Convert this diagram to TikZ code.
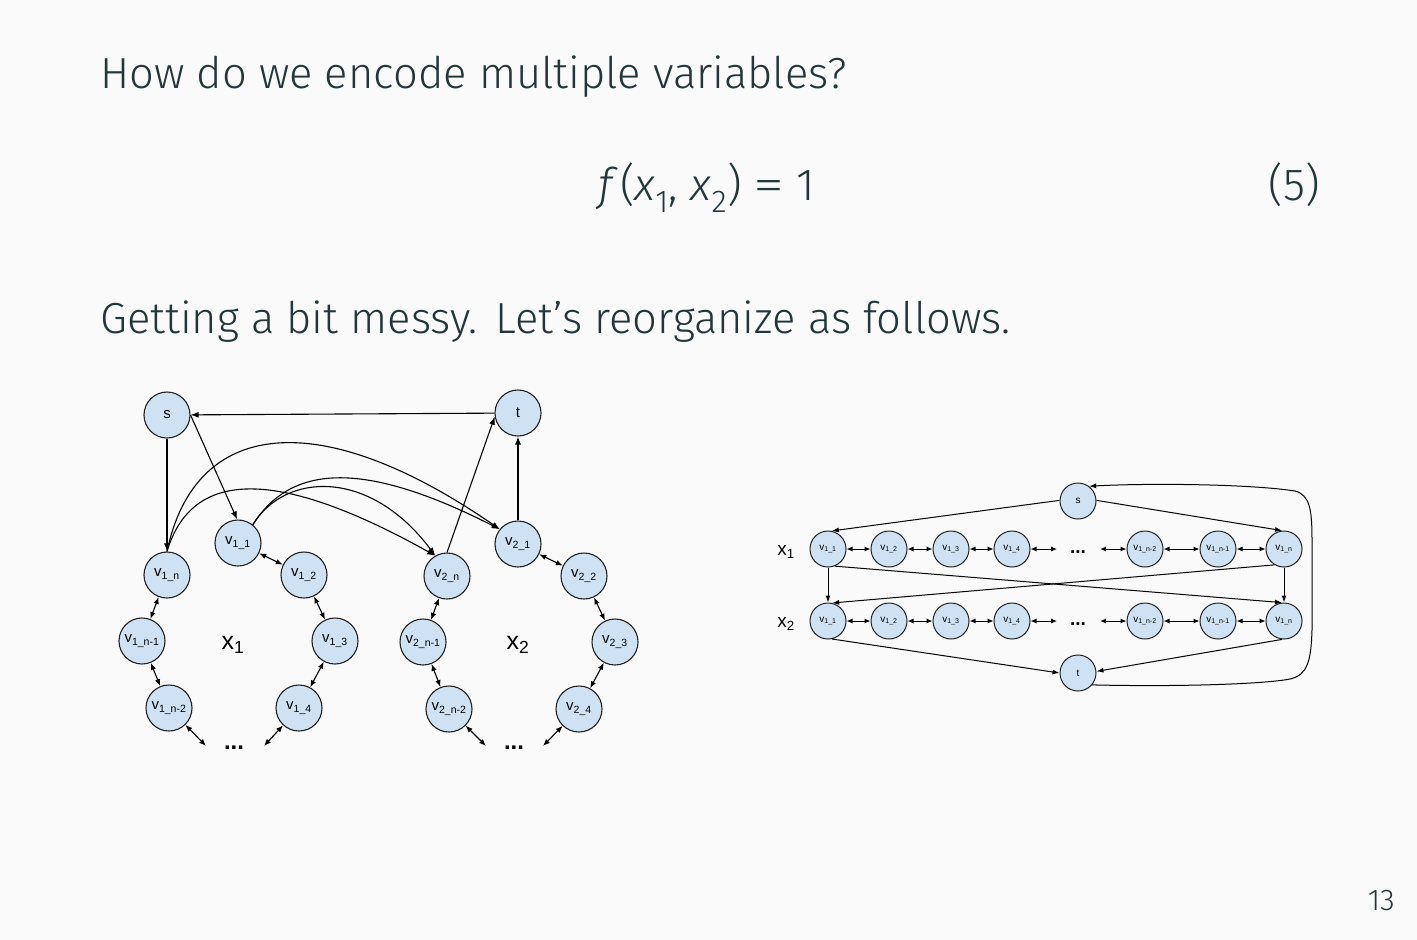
\documentclass[tikz,border=0pt]{standalone}
\usepackage{fontspec}
\usepackage{graphicx}
\setmainfont{Fira Sans Light}
\newfontfamily\arial{Liberation Sans}
\usetikzlibrary{arrows.meta}
\definecolor{pagebg}{HTML}{FAFAFA}
\definecolor{slidetext}{HTML}{23373B}
\definecolor{nodefill}{HTML}{CFE2F3}
\definecolor{nodeline}{HTML}{222222}
% node label: v with a lowered index
\newcommand\vlab[1]{v\textsubscript{#1}}
\begin{document}
\begin{tikzpicture}[x=1pt,y=-1pt,
  txt/.style={inner sep=0pt, text=slidetext},
  bn/.style={circle, draw=nodeline, fill=nodefill, line width=1.1pt, minimum size=46pt,
             inner sep=0pt, font=\arial\fontsize{15}{15}\selectfont},
  sn/.style={circle, draw=nodeline, fill=nodefill, line width=1pt, minimum size=36pt,
             inner sep=0pt, font=\arial\fontsize{10}{10}\selectfont},
  ellip/.style={inner sep=0pt, font=\arial\bfseries\fontsize{#1}{#1}\selectfont},
  varlab/.style={inner sep=0pt, font=\arial\fontsize{#1}{#1}\selectfont},
  arr/.style={-{Latex[length=8pt,width=6pt]}, line width=1.1pt},
  dbl/.style={{Latex[length=7pt,width=5.5pt]}-{Latex[length=7pt,width=5.5pt]}, line width=1.1pt},
  arrs/.style={-{Latex[length=7pt,width=5pt]}, line width=1pt},
  dbls/.style={{Latex[length=6pt,width=5pt]}-{Latex[length=6pt,width=5pt]}, line width=1pt},
]
% page
\path[fill=pagebg] (0,0) rectangle (1417,940);

% slide text
\node[txt, anchor=base west, font=\fontsize{43.5}{52}\selectfont] (title) at (100,88)
  {How do we encode multiple variables?};
\node[txt, anchor=base west, font=\fontsize{45}{54}\selectfont] (eq) at (598,200)
  {\textit{f\,}(\textit{x}\textsubscript{1}, \textit{x}\textsubscript{2})\hspace{12pt}\scalebox{1.4}[1]{=}\hspace{12pt}1};
\node[txt, anchor=base east, font=\fontsize{45}{54}\selectfont] (eqno) at (1320,200) {(5)};
\node[txt, anchor=base west, font=\fontsize{43.5}{52}\selectfont] (line2) at (100,333)
  {Getting a bit messy.\ \hspace{6pt}Let’s reorganize as follows.};
\node[txt, anchor=base east, font=\fontsize{30}{36}\selectfont] (pageno) at (1395,910) {13};

% ---------- first layout: two rings ----------
\node[bn] (s) at (167,415) {s};
\node[bn] (t) at (518,413) {t};

\node[bn] (v11) at (238,543) {\vlab{1\_1}};
\node[bn] (v12) at (304,575) {\vlab{1\_2}};
\node[bn] (v13) at (335,641) {\vlab{1\_3}};
\node[bn] (v14) at (299,708) {\vlab{1\_4}};
\node[bn] (v1n) at (167,575) {\vlab{1\_n}};
\node[bn] (v1m) at (142,641) {\vlab{1\_n-1}};
\node[bn] (v1k) at (169,708) {\vlab{1\_n-2}};
\node[ellip=24, anchor=base] (d1) at (234,749) {...};
\node[varlab=25] (x1) at (233,645) {x\textsubscript{1}};
\coordinate (d1l) at (206,746);
\coordinate (d1r) at (264,746);

\node[bn] (v21) at (518,544) {\vlab{2\_1}};
\node[bn] (v22) at (584,576) {\vlab{2\_2}};
\node[bn] (v23) at (615,642) {\vlab{2\_3}};
\node[bn] (v24) at (579,709) {\vlab{2\_4}};
\node[bn] (v2n) at (447,576) {\vlab{2\_n}};
\node[bn] (v2m) at (423,642) {\vlab{2\_n-1}};
\node[bn] (v2k) at (449,709) {\vlab{2\_n-2}};
\node[ellip=24, anchor=base] (d2) at (514,749) {...};
\node[varlab=25] (x2) at (518,645) {x\textsubscript{2}};
\coordinate (d2l) at (486,746);
\coordinate (d2r) at (543,746);

% ring edges
\draw[dbl] (v11) -- (v12);
\draw[dbl] (v12) -- (v13);
\draw[dbl] (v13) -- (v14);
\draw[dbl] (v14) -- (d1r);
\draw[dbl] (v1n) -- (v1m);
\draw[dbl] (v1m) -- (v1k);
\draw[dbl] (v1k) -- (d1l);
\draw[dbl] (v21) -- (v22);
\draw[dbl] (v22) -- (v23);
\draw[dbl] (v23) -- (v24);
\draw[dbl] (v24) -- (d2r);
\draw[dbl] (v2n) -- (v2m);
\draw[dbl] (v2m) -- (v2k);
\draw[dbl] (v2k) -- (d2l);

% source and sink
\draw[arr] (t) -- (s);
\draw[arr] (s) -- (v1n);
\draw[arr] (s.east) -- (v11.92);
\draw[arr] (v2n.north) -- (t.189);
\draw[arr] (v21) -- (t);

% links between the rings
\draw[arr] (v1n.north) .. controls (195,418) and (320,405) .. (v21.141);
\draw[arr] (v1n.north) .. controls (188,482) and (255,455) .. (v2n.120);
\draw[arr] (v11.51) .. controls (290,466) and (360,458) .. (v21.141);
\draw[arr] (v11.51) .. controls (285,472) and (370,468) .. (v2n.120);

% ---------- second layout: two rows ----------
\node[sn] (rs) at (1078,501) {s};
\node[sn] (rt) at (1078,673) {t};

\node[sn] (a1) at (828,549) {\vlab{1\_1}};
\node[sn] (a2) at (889,549) {\vlab{1\_2}};
\node[sn] (a3) at (951,549) {\vlab{1\_3}};
\node[sn] (a4) at (1012,549) {\vlab{1\_4}};
\node[sn] (ak) at (1145,549) {\vlab{1\_n-2}};
\node[sn] (am) at (1218,549) {\vlab{1\_n-1}};
\node[sn] (an) at (1284,549) {\vlab{1\_n}};
\node[ellip=19, anchor=base] (da) at (1078,553) {...};
\coordinate (dal) at (1057,549);
\coordinate (dar) at (1100,549);

\node[sn] (b1) at (828,621) {\vlab{1\_1}};
\node[sn] (b2) at (889,621) {\vlab{1\_2}};
\node[sn] (b3) at (951,621) {\vlab{1\_3}};
\node[sn] (b4) at (1012,621) {\vlab{1\_4}};
\node[sn] (bk) at (1145,621) {\vlab{1\_n-2}};
\node[sn] (bm) at (1218,621) {\vlab{1\_n-1}};
\node[sn] (bn) at (1284,621) {\vlab{1\_n}};
\node[ellip=19, anchor=base] (db) at (1078,625) {...};
\coordinate (dbl) at (1057,621);
\coordinate (dbr) at (1100,621);

\node[varlab=19] (rx1) at (786,552) {x\textsubscript{1}};
\node[varlab=19] (rx2) at (786,624) {x\textsubscript{2}};

% row edges
\draw[dbls] (a1) -- (a2);
\draw[dbls] (a2) -- (a3);
\draw[dbls] (a3) -- (a4);
\draw[dbls] (a4) -- (dal);
\draw[dbls] (dar) -- (ak);
\draw[dbls] (ak) -- (am);
\draw[dbls] (am) -- (an);
\draw[dbls] (b1) -- (b2);
\draw[dbls] (b2) -- (b3);
\draw[dbls] (b3) -- (b4);
\draw[dbls] (b4) -- (dbl);
\draw[dbls] (dbr) -- (bk);
\draw[dbls] (bk) -- (bm);
\draw[dbls] (bm) -- (bn);

% source, sink and cross links
\draw[arrs] (rs.178) -- (a1.78);
\draw[arrs] (rs.2) -- (an.96);
\draw[arrs] (a1) -- (b1);
\draw[arrs] (an) -- (bn);
\draw[arrs] (a1.-68) -- (bn.96);
\draw[arrs] (an.-121) -- (b1.77);
\draw[arrs] (b1.-77) -- (rt.180);
\draw[arrs] (bn.-96) -- (rt.5);
\draw[arrs] (rt.-40) .. controls (1180,687) and (1265,684) .. (1290,679)
  .. controls (1308,675) and (1311,660) .. (1312,630) -- (1312,540)
  .. controls (1312,510) and (1310,495) .. (1295,491)
  .. controls (1250,484) and (1150,483) .. (rs.53);
\end{tikzpicture}
\end{document}
